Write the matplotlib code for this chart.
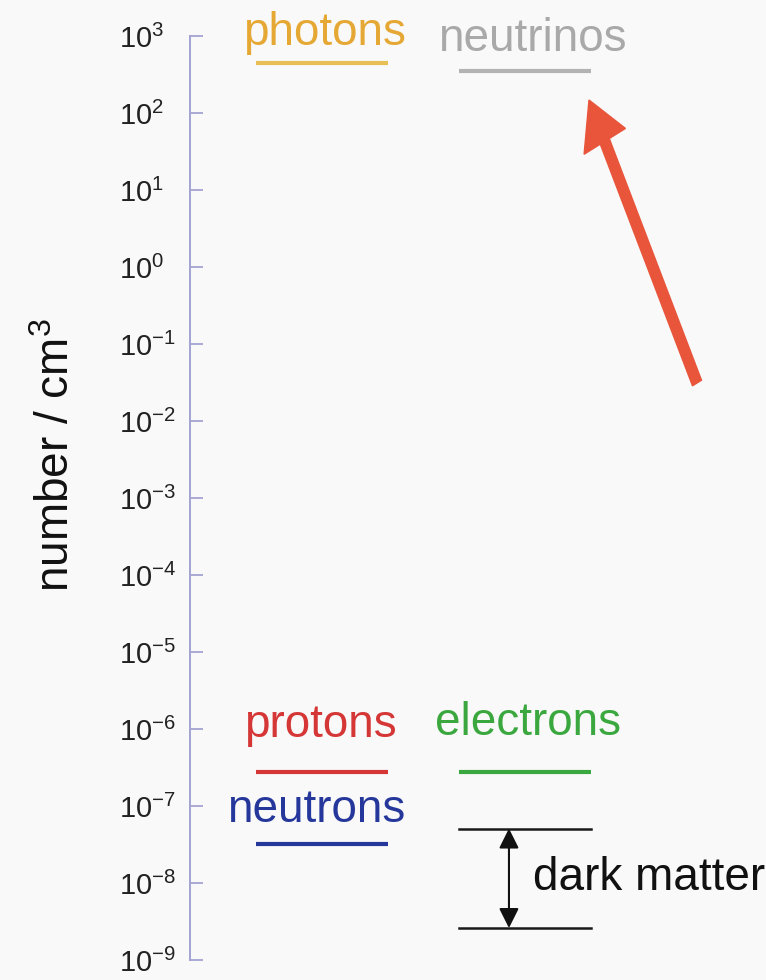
import matplotlib
matplotlib.use("Agg")
import matplotlib.pyplot as plt
from matplotlib.ticker import LogFormatterSciNotation, NullLocator
from matplotlib.patches import FancyArrow

plt.rcParams["font.family"] = ["Liberation Sans", "DejaVu Sans"]
plt.rcParams["mathtext.fontset"] = "custom"
plt.rcParams["mathtext.rm"] = "Liberation Sans"
plt.rcParams["mathtext.it"] = "Liberation Sans:italic"
plt.rcParams["mathtext.bf"] = "Liberation Sans:bold"

# Number densities today (per cm^3)
species = ["photons", "neutrinos", "protons", "electrons", "neutrons"]
densities = [440, 350, 2.8e-7, 2.8e-7, 3.2e-8]
columns = [0, 1, 0, 1, 0]
colors = ["#e6a834", "#a9a9a9", "#d53636", "#3aa83e", "#26379c"]
line_colors = ["#e8bf55", "#b3b3b3", "#d53636", "#3aa83e", "#26379c"]
# label offset from each line's centre (points)
label_dx = [1.5, 5, -1.5, 2, -4.5]
label_dy = [6, 7, 18, 19, 9]

dark_matter_range = [5.1e-8, 2.6e-9]
dark_matter_label = "dark matter"

y_ticks = [10.0 ** k for k in range(-9, 4)]

fig = plt.figure(figsize=(7.66, 9.80), dpi=100)
bg = "#f9f9f9"
fig.patch.set_facecolor(bg)
ax = fig.add_axes([190 / 766, 1 - 960 / 980, 1 - 190 / 766, (960 - 36) / 980])
ax.set_facecolor(bg)
ax.set_yscale("log")
ax.set_ylim(1e-9, 1e3)
ax.set_xlim(-0.650, 2.187)

spine_col = "#a3a3d2"
for s in ["top", "right", "bottom"]:
    ax.spines[s].set_visible(False)
ax.spines["left"].set_color(spine_col)
ax.spines["left"].set_linewidth(1.4)
ax.xaxis.set_visible(False)
ax.set_yticks(y_ticks)
ax.yaxis.set_minor_locator(NullLocator())
ax.yaxis.set_major_formatter(LogFormatterSciNotation())
# left-aligned tick labels in a column to the left of the spine
ax.tick_params(axis="y", direction="in", length=9, width=1.3, color=spine_col,
               labelsize=21, labelcolor="#222222", pad=51)
for lbl in ax.get_yticklabels():
    lbl.set_horizontalalignment("left")
ax.set_ylabel("number / cm$^3$", fontsize=33, color="#111111")
ax.yaxis.set_label_coords((79 - 190) / 576, 0.5465)

half = 0.325
for name, d, c, col, lc, dx, dy in zip(species, densities, columns, colors,
                                        line_colors, label_dx, label_dy):
    ax.plot([c - half, c + half], [d, d], color=lc, lw=3.0, solid_capstyle="butt")
    ax.annotate(name, xy=(c, d), xytext=(dx, dy), textcoords="offset points",
                ha="center", va="bottom", fontsize=33, color=col)

# dark matter band
for d in dark_matter_range:
    ax.plot([1 - half, 1 + half], [d, d], color="#1a1a1a", lw=1.8)
ax.annotate("", xy=(1 - 0.079, dark_matter_range[0]),
            xytext=(1 - 0.079, dark_matter_range[1]),
            arrowprops=dict(arrowstyle="<|-|>", color="#111111", lw=1.5,
                            mutation_scale=30, shrinkA=0, shrinkB=0))
ax.text(1 + 0.04, (dark_matter_range[0] * dark_matter_range[1]) ** 0.5,
        dark_matter_label, ha="left", va="center", fontsize=33, color="#111111")

# highlight arrow pointing at the neutrinos
W, H = 766, 980
x0, y0 = 697 / W, 1 - 383 / H
x1, y1 = 589 / W, 1 - 100 / H
arr = FancyArrow(x0, y0, x1 - x0, y1 - y0, width=10 / W, head_width=46 / W,
                 head_length=46 / H, length_includes_head=True,
                 color="#e8553a", transform=fig.transFigure)
fig.patches.append(arr)

fig.savefig("out.png", dpi=100, facecolor=bg)
